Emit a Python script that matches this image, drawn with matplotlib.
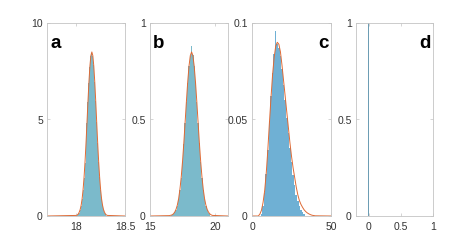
import numpy as np
import matplotlib
matplotlib.use("Agg")
import matplotlib.pyplot as plt

plt.rcParams['font.family'] = ['Liberation Sans', 'DejaVu Sans']

# panel a: histogram (bin centres, heights) and fitted curve
a_bins = [18.01, 18.02, 18.03, 18.04, 18.05, 18.06, 18.07, 18.08, 18.09, 18.10,
          18.11, 18.12, 18.13, 18.14, 18.15, 18.16, 18.17, 18.18, 18.19, 18.20,
          18.21, 18.22, 18.23, 18.24, 18.25, 18.26, 18.27, 18.28, 18.29, 18.30]
a_hist = [0.04, 0.09, 0.18, 0.31, 0.53, 0.86, 1.33, 1.98, 2.77, 3.72,
          4.80, 5.90, 6.88, 7.72, 8.28, 8.45, 8.30, 7.80, 6.95, 5.94,
          4.85, 3.78, 2.82, 2.01, 1.37, 0.89, 0.55, 0.32, 0.18, 0.09]
a_x = [17.70, 18.00, 18.01, 18.02, 18.03, 18.04, 18.05, 18.06, 18.07, 18.08,
       18.09, 18.10, 18.11, 18.12, 18.13, 18.14, 18.15, 18.16, 18.17, 18.18,
       18.19, 18.20, 18.21, 18.22, 18.23, 18.24, 18.25, 18.26, 18.27, 18.28,
       18.29, 18.30, 18.31, 18.32, 18.50]
a_fit = [0.0, 0.03, 0.05, 0.10, 0.19, 0.33, 0.55, 0.88, 1.36, 2.00,
         2.80, 3.76, 4.83, 5.92, 6.93, 7.76, 8.31, 8.50, 8.31, 7.76,
         6.93, 5.92, 4.83, 3.76, 2.80, 2.00, 1.36, 0.88, 0.55, 0.33,
         0.19, 0.10, 0.05, 0.03, 0.0]

# panel b
b_bins = [16.7, 16.8, 16.9, 17.0, 17.1, 17.2, 17.3, 17.4, 17.5, 17.6,
          17.7, 17.8, 17.9, 18.0, 18.1, 18.2, 18.3, 18.4, 18.5, 18.6,
          18.7, 18.8, 18.9, 19.0, 19.1, 19.2, 19.3, 19.4, 19.5, 19.6]
b_hist = [0.005, 0.010, 0.019, 0.033, 0.054, 0.087, 0.134, 0.199, 0.278, 0.373,
          0.481, 0.590, 0.690, 0.775, 0.830, 0.880, 0.832, 0.778, 0.692, 0.592,
          0.483, 0.376, 0.280, 0.199, 0.136, 0.088, 0.054, 0.032, 0.018, 0.009]
b_x = [15.0, 16.5, 16.6, 16.7, 16.8, 16.9, 17.0, 17.1, 17.2, 17.3,
       17.4, 17.5, 17.6, 17.7, 17.8, 17.9, 18.0, 18.1, 18.2, 18.3,
       18.4, 18.5, 18.6, 18.7, 18.8, 18.9, 19.0, 19.1, 19.2, 19.3,
       19.4, 19.5, 19.6, 19.7, 19.8, 21.0]
b_fit = [0.0, 0.002, 0.004, 0.006, 0.011, 0.020, 0.034, 0.056, 0.089, 0.137,
         0.200, 0.281, 0.377, 0.484, 0.593, 0.694, 0.776, 0.831, 0.850, 0.831,
         0.776, 0.694, 0.593, 0.484, 0.377, 0.281, 0.200, 0.137, 0.089, 0.056,
         0.034, 0.020, 0.011, 0.006, 0.003, 0.0]

# panel c
c_bins = [6, 7, 8, 9, 10, 11, 12, 13, 14, 15, 16, 17, 18, 19, 20, 21, 22, 23, 24,
          25, 26, 27, 28, 29, 30, 31, 32, 33]
c_hist = [0.001, 0.005, 0.012, 0.022, 0.034, 0.049, 0.062, 0.074, 0.084, 0.096,
          0.089, 0.087, 0.083, 0.076, 0.068, 0.060, 0.051, 0.043, 0.035,
          0.028, 0.021, 0.016, 0.011, 0.008, 0.005, 0.003, 0.002, 0.001]
c_x = [0, 4, 5, 6, 7, 8, 9, 10, 11, 12, 13, 14, 15, 16, 17, 18, 19, 20, 21, 22,
       23, 24, 25, 26, 27, 28, 29, 30, 31, 32, 33, 34, 35, 36, 37, 38, 40, 50]
c_fit = [0.0, 0.0, 0.001, 0.003, 0.007, 0.013, 0.022, 0.034, 0.048, 0.061, 0.073,
         0.082, 0.088, 0.090, 0.089, 0.085, 0.078, 0.070, 0.062, 0.054,
         0.046, 0.038, 0.031, 0.025, 0.020, 0.015, 0.011, 0.008, 0.006, 0.0045,
         0.0032, 0.0023, 0.0016, 0.0011, 0.0007, 0.0004, 0.0001, 0.0]

# panel d: everything at zero
d_bins = [0.0]
d_hist = [1.2]

fill_ab = '#7bbacb'
fill_c = '#6fb0d4'
line_col = '#de6a35'
spine_col = '#c4c4c4'


def edges(centres, w):
    c = np.asarray(centres, dtype=float)
    return np.append(c - w / 2, c[-1] + w / 2)


fig = plt.figure(figsize=(4.59, 2.47), dpi=100)
lefts = [47, 150, 252, 356]
widths = [78, 78, 79, 77]
axes = [fig.add_axes([l / 459, 31 / 247, w / 459, 193 / 247]) for l, w in zip(lefts, widths)]

ax = axes[0]
ax.stairs(a_hist, edges(a_bins, 0.01), fill=True, color=fill_ab, lw=0)
ax.plot(a_x, a_fit, color=line_col, lw=0.7)
ax.set_xlim(17.7, 18.5)
ax.set_ylim(0, 10)
ax.set_xticks([18, 18.5], ['18', '18.5'])
ax.set_yticks([0, 5, 10])

ax = axes[1]
ax.stairs(b_hist, edges(b_bins, 0.1), fill=True, color=fill_ab, lw=0)
ax.plot(b_x, b_fit, color=line_col, lw=0.7)
ax.set_xlim(15, 21)
ax.set_ylim(0, 1)
ax.set_xticks([15, 20])
ax.set_yticks([0, 0.5, 1], ['0', '0.5', '1'])

ax = axes[2]
ax.stairs(c_hist, edges(c_bins, 1.0), fill=True, color=fill_c, lw=0)
ax.plot(c_x, c_fit, color=line_col, lw=0.7)
ax.set_xlim(0, 50)
ax.set_ylim(0, 0.1)
ax.set_xticks([0, 50])
ax.set_yticks([0, 0.05, 0.1], ['0', '0.05', '0.1'])

ax = axes[3]
ax.bar(d_bins, d_hist, width=0.02, color='#6d9db4', linewidth=0)
ax.set_xlim(-0.2, 1)
ax.set_ylim(0, 1)
ax.set_xticks([0, 0.5, 1], ['0', '0.5', '1'])
ax.set_yticks([0, 0.5, 1], ['0', '0.5', '1'])

letters = ['a', 'b', 'c', 'd']
for ax, let in zip(axes, letters):
    for s in ax.spines.values():
        s.set_color(spine_col)
        s.set_linewidth(0.6)
    ax.tick_params(direction='in', length=2.5, width=0.5, color=spine_col,
                   labelcolor='#333333', labelsize=7.5, top=True, right=True, pad=3)
    ax.tick_params(axis='x', pad=4)
    if let in ('a', 'b'):
        ax.text(0.04, 0.94, let, transform=ax.transAxes, fontsize=13.5,
                fontweight='bold', ha='left', va='top')
    else:
        ax.text(0.97, 0.94, let, transform=ax.transAxes, fontsize=13.5,
                fontweight='bold', ha='right', va='top')

fig.savefig('out.png', dpi=100)
